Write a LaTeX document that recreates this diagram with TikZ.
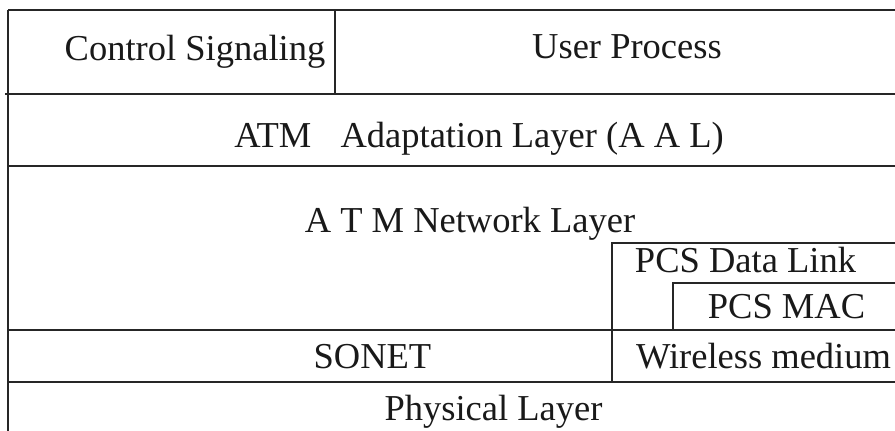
\documentclass[tikz,border=0pt]{standalone}
\usepackage{fontspec}
\setmainfont{Liberation Serif}
\begin{document}
\begin{tikzpicture}[x=1pt, y=-1pt,
  rule/.style={line width=1.1pt, draw=black!85},
  lbl/.style={anchor=base, inner sep=0pt, font=\fontsize{36.5}{40}\selectfont, text=black!90}]
\useasboundingbox (0,0) rectangle (895,431);

% horizontal layer boundaries
\draw[rule] (8,10) -- (895,10);
\draw[rule] (5,94) -- (895,94);
\draw[rule] (8,166) -- (895,166);
\draw[rule] (8,330) -- (895,330);
\draw[rule] (8,382) -- (895,382);
% left edge of the stack
\draw[rule] (8,10) -- (8,431);
% split of the top row
\draw[rule] (335,10) -- (335,94);
% PCS data link and MAC sub-blocks
\draw[rule] (612,382) -- (612,243) -- (895,243);
\draw[rule] (673,330) -- (673,283) -- (895,283);

% layer labels
\node[lbl] (ctrl) at (195,60) {Control Signaling};
\node[lbl] (user) at (627,58) {User Process};
\node[lbl] (aal)  at (479,147) {ATM\hspace{0.8em}Adaptation Layer (A A L)};
\node[lbl] (atm)  at (470,232) {A T M Network Layer};
\node[lbl] (pdl)  at (745.5,272) {PCS Data Link};
\node[lbl] (mac)  at (786.5,318) {PCS MAC};
\node[lbl] (sonet) at (372.5,368) {SONET};
\node[lbl] (wire) at (763.5,368) {Wireless medium};
\node[lbl] (phy)  at (493.5,420) {Physical Layer};
\end{tikzpicture}
\end{document}
